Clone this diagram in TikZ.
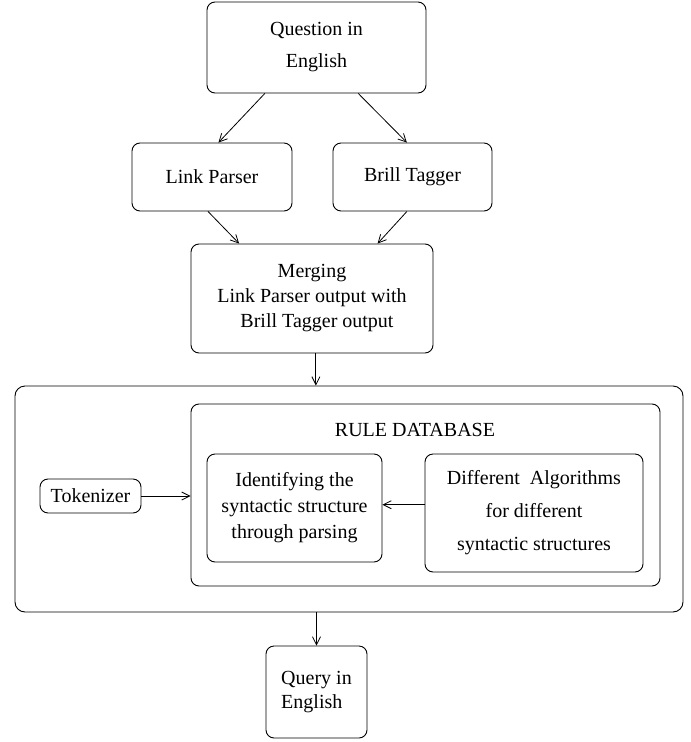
\documentclass[tikz,border=0pt]{standalone}
\usepackage{fontspec}
\setmainfont{Liberation Serif}
\usetikzlibrary{arrows.meta,calc}

\newcommand{\lsp}[1]{\fontsize{20}{#1}\selectfont}

\tikzset{
  box/.style={draw, line width=0.9pt, rounded corners=8pt, inner sep=0pt,
              align=center, font=\lsp{24}},
  arr/.style={-{Straight Barb[length=8pt,width=8pt]}, line width=0.8pt},
}

\begin{document}
\begin{tikzpicture}[x=1pt, y=-1pt]
  \useasboundingbox (0,0) rectangle (691,742);

  % top of the pipeline
  \node[box, minimum width=219pt, minimum height=91pt, font=\lsp{32}]
    (quest) at (316.5,47.5) {Question in\\English};
  \node[box, minimum width=160pt, minimum height=68pt]
    (link) at (212,177) {Link Parser};
  \node[box, minimum width=159pt, minimum height=68pt]
    (brill) at (412.5,177) {Brill Tagger};
  \node[box, minimum width=242pt, minimum height=109pt, font=\lsp{25}]
    (merge) at (312,298.5) {Merging\\Link Parser output with\\\ \ Brill Tagger output};

  % processing block
  \node[box, rounded corners=10pt, minimum width=668pt, minimum height=226pt]
    (outer) at (349,499) {};
  \node[box, minimum width=469pt, minimum height=182pt]
    (rule) at (425.5,495) {};
  \node[font=\lsp{24}, inner sep=0pt] (rdb) at (415,430) {RULE DATABASE};
  \node[box, minimum width=175pt, minimum height=108pt, font=\lsp{26}]
    (ident) at (294.5,508) {Identifying the\\syntactic structure\\through parsing};
  \node[box, minimum width=218pt, minimum height=118pt, font=\lsp{33}]
    (diff) at (534,513) {Different~~Algorithms\\for different\\syntactic structures};
  \node[box, minimum width=101pt, minimum height=34pt]
    (tok) at (90.5,496) {Tokenizer};

  % result
  \node[box, minimum width=101pt, minimum height=92pt, align=left]
    (query) at (316.5,692) {Query in\\English};

  % connectors
  \draw[arr] ($(quest.south west)!0.265!(quest.south east)$)
          -- ($(link.north west)!0.54!(link.north east)$);
  \draw[arr] ($(quest.south west)!0.69!(quest.south east)$)
          -- ($(brill.north west)!0.465!(brill.north east)$);
  \draw[arr] ($(link.south west)!0.475!(link.south east)$)
          -- ($(merge.north west)!0.2!(merge.north east)$);
  \draw[arr] ($(brill.south west)!0.465!(brill.south east)$)
          -- ($(merge.north west)!0.77!(merge.north east)$);
  \coordinate (mo) at ($(merge.south west)!0.516!(merge.south east)$);
  \draw[arr] (mo) -- (mo |- outer.north);
  \draw[arr] (tok.east) -- (tok.east -| rule.west);
  \coordinate (da) at ($(ident.north east)!0.47!(ident.south east)$);
  \draw[arr] (da -| diff.west) -- (da);
  \draw[arr] (query.north |- outer.south) -- (query.north);
\end{tikzpicture}
\end{document}
